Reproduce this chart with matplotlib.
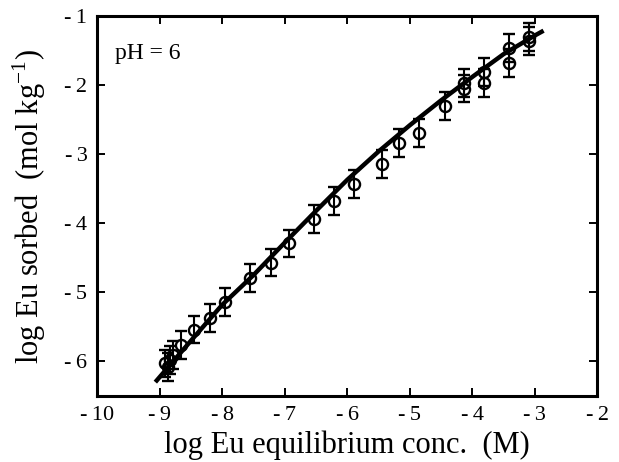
"""Eu sorption isotherm at pH 6: measured points with error bars and model curve."""
import matplotlib
matplotlib.use("Agg")
import matplotlib.pyplot as plt

plt.rcParams["font.family"] = ["Liberation Serif", "DejaVu Serif"]
plt.rcParams["axes.unicode_minus"] = False

# measured data (log M, log mol/kg)
x_obs = [-8.91, -8.86, -8.83, -8.78, -8.66, -8.45, -8.19, -7.95, -7.55, -7.22,
         -6.93, -6.53, -6.21, -5.89, -5.45, -5.17, -4.85, -4.43, -4.13, -4.13,
         -3.81, -3.81, -3.42, -3.42, -3.10, -3.10]
y_obs = [-6.03, -6.08, -5.98, -5.91, -5.76, -5.54, -5.37, -5.14, -4.79, -4.57,
         -4.29, -3.94, -3.68, -3.43, -3.14, -2.84, -2.69, -2.30, -1.97, -2.05,
         -1.81, -1.97, -1.46, -1.68, -1.30, -1.36]
y_err = [0.2] * len(x_obs)

# model curve
x_fit = [-9.07, -8.5, -8.0, -7.5, -7.0, -6.5, -6.0, -5.5, -5.0, -4.5, -4.0, -3.5, -3.0, -2.86]
y_fit = [-6.30, -5.70, -5.18, -4.75, -4.28, -3.82, -3.37, -2.96, -2.58, -2.22, -1.88, -1.55, -1.28, -1.21]

xticks = [-10, -9, -8, -7, -6, -5, -4, -3, -2]
yticks = [-6, -5, -4, -3, -2, -1]

fig = plt.figure(figsize=(6.19, 4.62), dpi=100)
ax = fig.add_axes([0.157, 0.143, 0.808, 0.822])

ax.plot(x_fit, y_fit, color="black", lw=3.2, solid_capstyle="butt", zorder=3)
ax.errorbar(x_obs, y_obs, yerr=y_err, fmt="o", mfc="none", mec="black", mew=1.7,
            ms=8, ecolor="black", elinewidth=1.5, capsize=4, capthick=2.2, zorder=4)

ax.set_xlim(-10, -2)
ax.set_ylim(-6.5, -1)
ax.set_xticks(xticks)
ax.set_yticks(yticks)
ax.set_xticklabels([f"-\u2009{abs(v)}" for v in xticks])
ax.set_yticklabels([f"-\u2009{abs(v)}" for v in yticks])
ax.tick_params(direction="in", length=6, width=1.4, top=True, right=True,
               labelsize=16, pad=7)

for s in ax.spines.values():
    s.set_linewidth(2.2)

ax.set_xlabel("log Eu equilibrium conc.  (M)", fontsize=22, labelpad=4)
ax.set_ylabel("log Eu sorbed  (mol kg$^{\\mathregular{-1}}$)", fontsize=22, labelpad=12)
ax.text(0.035, 0.903, "pH = 6", transform=ax.transAxes, fontsize=17, va="center")

fig.savefig("out.png", dpi=100)
